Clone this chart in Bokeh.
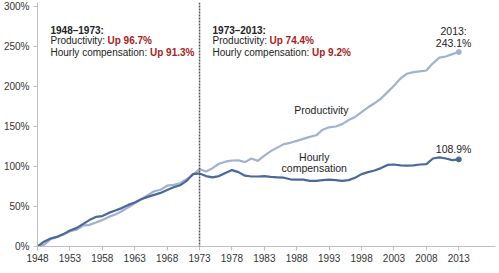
from bokeh.plotting import figure
from bokeh.models import FixedTicker, PrintfTickFormatter, Span, Range1d, ColumnDataSource
from bokeh.core.properties import value
from bokeh.embed import file_html
from bokeh.resources import INLINE

years = list(range(1948, 2014))
productivity = [0, 2, 9, 12, 15, 19, 21, 26, 27, 30, 33, 37, 40, 44, 49, 54, 59, 64, 69, 71,
                76, 77, 79, 84, 90, 96.7,
                93.7, 97.9, 103.4, 106.0, 107.5, 107.8, 105.5, 110.0, 107.0, 113.7, 119.2, 123.6,
                128.0, 129.6, 132.0, 134.5, 137.0, 139.0, 146.0, 149.0, 150.0, 153.0, 158.0, 162.0,
                168.0, 174.0, 179.0, 185.0, 193.0, 201.0, 210.0, 216.0, 218.0, 219.0, 220.0, 229.0,
                236.0, 237.5, 240.5, 243.1]
compensation = [0, 6, 10, 12, 15.5, 20, 23, 28, 33, 37, 38, 42, 45, 48, 52, 55, 59, 62, 64.5, 67,
                70.5, 74, 76.5, 82, 90.5, 91.3,
                88, 86.5, 88, 92, 95.5, 93, 88.5, 87.5, 87.5, 88, 87, 86.5, 86, 84, 83.5, 83.5,
                82, 82, 83, 83.5, 83, 82, 83, 86, 90.5, 93, 95, 98, 102, 102.5, 101.5, 101,
                101.5, 102.5, 103, 110, 111.5, 110, 108, 108.9]
x_ticks = list(range(1948, 2014, 5))
y_ticks = [0, 50, 100, 150, 200, 250, 300]

FONT = "Liberation Sans"
LIGHT = "#a3b0d0"
DARK = "#48699a"
RED = "#a81c22"
TXT = "#222222"
FS = "10px"

p = figure(width=499, height=273, output_backend="svg", toolbar_location=None,
           x_range=Range1d(1948, 1948 + (495 - 35) / 6.51),
           y_range=Range1d(0, 300 + 4 / 0.8),
           min_border_left=35, min_border_right=4, min_border_top=2, min_border_bottom=27)
p.outline_line_color = None
p.xgrid.visible = False
p.ygrid.visible = False
p.background_fill_color = "white"
p.border_fill_color = "white"

for ax in (p.xaxis[0], p.yaxis[0]):
    ax.axis_line_color = "#bfbfbf"
    ax.major_tick_line_color = "#bfbfbf"
    ax.minor_tick_line_color = None
    ax.major_tick_in = 0
    ax.major_tick_out = 4
    ax.major_label_text_font = FONT
    ax.major_label_text_font_size = "10px"
    ax.major_label_text_color = "#333333"

p.xaxis.ticker = FixedTicker(ticks=x_ticks)
p.yaxis.ticker = FixedTicker(ticks=y_ticks)
p.yaxis.formatter = PrintfTickFormatter(format="%d%%")
p.xaxis.major_label_standoff = 3
p.yaxis.major_label_standoff = 4

p.add_layout(Span(location=1973, dimension="height", line_color="#555555",
                  line_dash="2 1", line_width=1.5))

src = ColumnDataSource(dict(x=years, prod=productivity, comp=compensation))
p.line("x", "prod", source=src, line_color=LIGHT, line_width=2.2)
p.line("x", "comp", source=src, line_color=DARK, line_width=2.2)
p.scatter([years[-1]], [productivity[-1]], size=5, color=LIGHT)
p.scatter([years[-1]], [compensation[-1]], size=5, color=DARK)

def txt(x, y, s, color=TXT, bold=False, align="left", xoff=0, fs=FS):
    p.text([x], [y], text=[s], text_font=value(FONT), text_font_size=fs,
           text_color=color, text_font_style="bold" if bold else "normal",
           text_align=align, text_baseline="middle", x_offset=xoff)

# left block
lx = 1950.0
txt(lx, (246 - 29.5) / 0.8, "1948–1973:", bold=True)
txt(lx, (246 - 40) / 0.8, "Productivity: ")
txt(lx, (246 - 40) / 0.8, "Up 96.7%", color=RED, bold=True, xoff=57)
txt(lx, (246 - 51.5) / 0.8, "Hourly compensation: ")
txt(lx, (246 - 51.5) / 0.8, "Up 91.3%", color=RED, bold=True, xoff=99.5)
# right block
rx = 1975.0
txt(rx, (246 - 29.5) / 0.8, "1973–2013:", bold=True)
txt(rx, (246 - 40) / 0.8, "Productivity: ")
txt(rx, (246 - 40) / 0.8, "Up 74.4%", color=RED, bold=True, xoff=57)
txt(rx, (246 - 51.5) / 0.8, "Hourly compensation: ")
txt(rx, (246 - 51.5) / 0.8, "Up 9.2%", color=RED, bold=True, xoff=99.5)

# series labels
txt(1991.8, (246 - 109) / 0.8, "Productivity", align="center", fs="10.5px")
txt(1990.7, (246 - 156) / 0.8, "Hourly", align="center", fs="10.5px")
txt(1990.7, (246 - 167) / 0.8, "compensation", align="center", fs="10.5px")
txt(2012.2, (246 - 30) / 0.8, "2013:", align="center", fs="10.5px")
txt(2012.2, (246 - 42) / 0.8, "243.1%", align="center", fs="10.5px")
txt(2012.2, (246 - 148) / 0.8, "108.9%", align="center", fs="10.5px")

open("out.html", "w").write(file_html(p, INLINE))
